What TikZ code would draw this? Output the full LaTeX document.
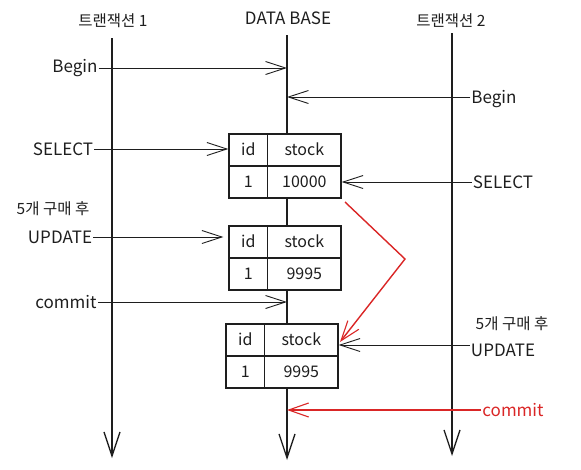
\documentclass[tikz,border=0pt]{standalone}
\usepackage{fontspec}
\setmainfont{Noto Sans CJK KR}
\usetikzlibrary{arrows.meta,calc}
\definecolor{redc}{RGB}{218,38,38}
\definecolor{inkc}{RGB}{30,30,30}
\newcommand\mytable[3]{%
  \node[tbl] (#1) at (#2) {};
  \draw[tblline] (#1.west) -- (#1.east);
  \draw[tblline] ($(#1.north west)+(39,0)$) -- ($(#1.south west)+(39,0)$);
  \node[cell] (#1-h1) at ($(#1.north west)+(20,16)$) {id};
  \node[cell] (#1-h2) at ($(#1.north west)+(76,16)$) {stock};
  \node[cell] (#1-v1) at ($(#1.north west)+(20,48)$) {1};
  \node[cell] (#1-v2) at ($(#1.north west)+(76,48)$) {#3};
}
\begin{document}
\begin{tikzpicture}[x=1pt,y=-1pt,
  lbl/.style={font=\fontsize{17}{19}\selectfont, text=inkc, inner sep=1pt},
  cell/.style={font=\fontsize{16}{18}\selectfont, text=inkc, inner sep=1pt},
  kor/.style={font=\fontsize{15.5}{18}\selectfont, text=inkc, inner sep=1pt},
  life/.style={line width=1.6pt, draw=inkc, -{Straight Barb[length=24pt,width=16pt,line width=1.3pt]}},
  msg/.style={line width=0.9pt, draw=inkc, -{Straight Barb[length=20pt,width=13pt,line width=0.9pt]}},
  redmsg/.style={line width=1.1pt, draw=redc, -{Straight Barb[length=20pt,width=14pt,line width=1.1pt]}},
  tbl/.style={draw=inkc, line width=1.3pt, fill=white, minimum width=112pt, minimum height=64pt, inner sep=0pt},
  tblline/.style={draw=inkc, line width=1.2pt}]
\useasboundingbox (0,0) rectangle (581,469);
% lifelines
\coordinate (t1top) at (112,38);
\coordinate (t1bot) at (112,458);
\coordinate (dbtop) at (287,35);
\coordinate (dbbot) at (287,460);
\coordinate (t2top) at (452,33);
\coordinate (t2bot) at (452,456);
\draw[life] (t1top) -- (t1bot);
\draw[life] (dbtop) -- (dbbot);
\draw[life] (t2top) -- (t2bot);
% headers
\node[kor] (t1lab) at (113,21) {트랜잭션 1};
\node[lbl] (dblab) at (288,18) {DATA BASE};
\node[kor] (t2lab) at (451,21) {트랜잭션 2};
% tables
\mytable{tab1}{285,166}{10000}
\mytable{tab2}{285,258}{9995}
\mytable{tab3}{282,356}{9995}
% Begin
\node[lbl] (b1) at (75,68) {Begin};
\draw[msg] (b1.east) -- (b1.east -| dbtop);
\node[lbl] (b2) at (494,99) {Begin};
\path (b2.west) ++(0,-2) coordinate (b2a);
\draw[msg] (b2a) -- (b2a -| dbtop);
% SELECT
\node[lbl] (s1) at (63,149) {SELECT};
\draw[msg] (s1.east) -- (s1.east -| tab1.west);
\node[lbl] (s2) at (503,182) {SELECT};
\draw[msg] (s2.west) -- (s2.west -| tab1.east);
% UPDATE left
\node[kor] (k1) at (53,209) {5개 구매 후};
\node[lbl] (u1) at (60,237) {UPDATE};
\draw[msg, shorten >=5pt] (u1.east) -- (u1.east -| tab2.west);
% commit left
\node[lbl] (c1) at (66,302) {commit};
\draw[msg] (c1.east) -- (c1.east -| dbtop);
% UPDATE right
\node[kor] (k2) at (512,324) {5개 구매 후};
\node[lbl] (u2) at (503,350) {UPDATE};
\path (u2.west) ++(0,-5) coordinate (u2a);
\draw[msg] (u2a) -- (u2a -| tab3.east);
% commit right (red)
\node[lbl, text=redc] (c2) at (513,410) {commit};
\draw[redmsg] (c2.west) -- (c2.west -| dbtop);
% red zigzag
\coordinate (z1) at (345,202);
\coordinate (z2) at (405,259);
\coordinate (z3) at (340,342);
\draw[redmsg, line width=1.4pt] (z1) -- (z2) -- (z3);
\end{tikzpicture}
\end{document}
